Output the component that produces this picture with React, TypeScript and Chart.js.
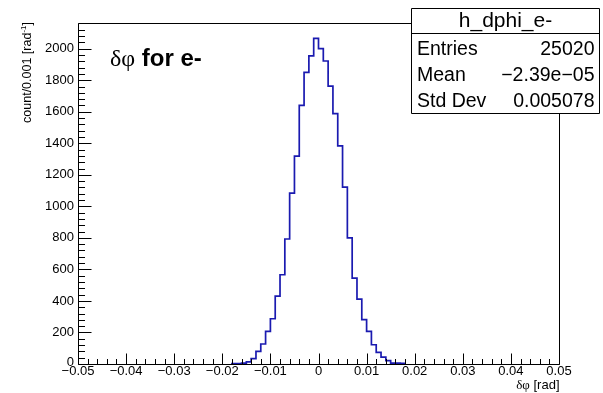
import React, { useEffect, useRef } from "react";
import { Chart, registerables } from "chart.js";

Chart.register(...registerables);

// ---- data ----
const binWidth = 0.001;
const firstBinLow = -0.018;
const counts = [
  3, 3, 5, 13, 34, 80, 127, 207, 287, 431, 566, 793, 1084, 1318, 1640, 1850, 1954, 2066,
  2000, 1922, 1762, 1588, 1384, 1122, 800, 545, 412, 281, 207, 122, 74, 44, 21, 6, 5, 4,
];
const xMin = -0.05;
const xMax = 0.05;
const yMin = 0;
const yMax = 2163;
const xTickValues = [-0.05, -0.04, -0.03, -0.02, -0.01, 0, 0.01, 0.02, 0.03, 0.04, 0.05];
const xTickLabels = ["\u22120.05", "\u22120.04", "\u22120.03", "\u22120.02", "\u22120.01", "0", "0.01", "0.02", "0.03", "0.04", "0.05"];
const yTickValues = [0, 200, 400, 600, 800, 1000, 1200, 1400, 1600, 1800, 2000];
const yTickLabels = ["0", "200", "400", "600", "800", "1000", "1200", "1400", "1600", "1800", "2000"];
const statTitle = "h_dphi_e-";
const statNames = ["Entries", "Mean", "Std Dev"];
const statValues = ["25020", "\u22122.39e\u221205", "0.005078"];
const plotTitleGreek = "\u03b4\u03c6";
const plotTitleRest = " for e-";
const xTitleGreek = "\u03b4\u03c6";
const xTitleRest = " [rad]";
const yTitleMain = "count/0.001 [rad";
const yTitleSup = "-1";
const yTitleEnd = "]";

const SANS = '"Liberation Sans", Arial, Helvetica, sans-serif';
const SERIF = '"Liberation Serif", "Times New Roman", serif';

function buildPoints() {
  const pts: { x: number; y: number }[] = [];
  pts.push({ x: firstBinLow, y: 0 });
  counts.forEach((c, i) => pts.push({ x: firstBinLow + i * binWidth, y: c }));
  pts.push({ x: firstBinLow + counts.length * binWidth, y: 0 });
  return pts;
}

const rootStyle = {
  id: "rootStyle",
  beforeDraw(chart: any) {
    const ctx = chart.ctx;
    ctx.save();
    ctx.fillStyle = "#fff";
    ctx.fillRect(0, 0, chart.width, chart.height);
    ctx.restore();
  },
  afterDraw(chart: any) {
    const ctx: CanvasRenderingContext2D = chart.ctx;
    const a = chart.chartArea;
    const xs = chart.scales.x;
    const ys = chart.scales.y;
    const L = Math.round(a.left) + 0.5;
    const R = Math.round(a.right) + 0.5;
    const T = Math.round(a.top) + 0.5;
    const B = Math.round(a.bottom) + 0.5;
    ctx.save();
    ctx.strokeStyle = "#000";
    ctx.lineWidth = 1;
    ctx.beginPath();
    ctx.rect(L, T, R - L, B - T);
    ctx.stroke();

    // x ticks (inward)
    ctx.beginPath();
    const nx = 50;
    for (let i = 0; i <= nx; i++) {
      const v = xMin + (i * (xMax - xMin)) / nx;
      const px = Math.round(xs.getPixelForValue(v)) + 0.5;
      const len = i % 5 === 0 ? 11 : 5.5;
      ctx.moveTo(px, B);
      ctx.lineTo(px, B - len);
    }
    // y ticks (inward)
    for (let v = 0; v <= yMax; v += 40) {
      const py = Math.round(ys.getPixelForValue(v)) + 0.5;
      const len = v % 200 === 0 ? 13 : 6.5;
      ctx.moveTo(L, py);
      ctx.lineTo(L + len, py);
    }
    ctx.stroke();

    // tick labels
    ctx.fillStyle = "#000";
    ctx.font = `13px ${SANS}`;
    ctx.textAlign = "center";
    ctx.textBaseline = "middle";
    xTickValues.forEach((v, i) => {
      ctx.fillText(xTickLabels[i], xs.getPixelForValue(v), 371);
    });
    ctx.textAlign = "right";
    yTickValues.forEach((v, i) => {
      ctx.fillText(yTickLabels[i], 74, ys.getPixelForValue(v) - (v === 0 ? 1.5 : 0));
    });

    // x title
    ctx.textBaseline = "alphabetic";
    ctx.textAlign = "left";
    ctx.font = `13px ${SERIF}`;
    const gw = ctx.measureText(xTitleGreek).width;
    ctx.font = `13px ${SANS}`;
    const rw = ctx.measureText(xTitleRest).width;
    const xStart = R - gw - rw;
    ctx.font = `13px ${SERIF}`;
    ctx.fillText(xTitleGreek, xStart, 389);
    ctx.font = `13px ${SANS}`;
    ctx.fillText(xTitleRest, xStart + gw, 389);

    // y title (rotated)
    ctx.save();
    ctx.translate(31, 22);
    ctx.rotate(-Math.PI / 2);
    ctx.font = `12.5px ${SANS}`;
    const w1 = ctx.measureText(yTitleMain).width;
    const w3 = ctx.measureText(yTitleEnd).width;
    ctx.font = `8px ${SANS}`;
    const w2 = ctx.measureText(yTitleSup).width;
    let cx = -(w1 + w2 + w3);
    ctx.font = `12.5px ${SANS}`;
    ctx.fillText(yTitleMain, cx, 0);
    cx += w1;
    ctx.font = `8px ${SANS}`;
    ctx.fillText(yTitleSup, cx, -5);
    cx += w2;
    ctx.font = `12.5px ${SANS}`;
    ctx.fillText(yTitleEnd, cx, 0);
    ctx.restore();

    // plot title
    ctx.font = `24px ${SERIF}`;
    const tw = ctx.measureText(plotTitleGreek).width;
    ctx.fillText(plotTitleGreek, 110, 66);
    ctx.font = `bold 24px ${SANS}`;
    ctx.fillText(plotTitleRest, 110 + tw, 66);

    // stat box
    const bx = 411.5, by = 8.5, bw = 188, bh = 105;
    ctx.fillStyle = "#fff";
    ctx.fillRect(bx, by, bw, bh);
    ctx.beginPath();
    ctx.rect(bx, by, bw, bh);
    ctx.moveTo(bx, 33.5);
    ctx.lineTo(bx + bw, 33.5);
    ctx.stroke();
    ctx.fillStyle = "#000";
    ctx.font = `21px ${SANS}`;
    ctx.textAlign = "center";
    ctx.fillText(statTitle, bx + bw / 2, 27);
    ctx.font = `19.5px ${SANS}`;
    ctx.textBaseline = "middle";
    const rowsY = [49.5, 76, 102];
    statNames.forEach((n, i) => {
      ctx.textAlign = "left";
      ctx.fillText(n, 417, rowsY[i]);
      ctx.textAlign = "right";
      ctx.fillText(statValues[i], 594.5, rowsY[i]);
    });
    ctx.restore();
  },
};

export default function App() {
  const ref = useRef<HTMLCanvasElement | null>(null);
  useEffect(() => {
    if (!ref.current) return;
    const chart = new Chart(ref.current, {
      type: "line",
      data: {
        datasets: [
          {
            data: buildPoints(),
            borderColor: "#1a1ab0",
            borderWidth: 1.7,
            stepped: "before",
            pointRadius: 0,
            fill: false,
            tension: 0,
          },
        ],
      },
      options: {
        animation: false,
        responsive: false,
        maintainAspectRatio: false,
        events: [],
        layout: { padding: { left: 78, right: 44, top: 23, bottom: 29 } },
        plugins: {
          legend: { display: false },
          tooltip: { enabled: false },
          title: { display: false },
        },
        scales: {
          x: { type: "linear", min: xMin, max: xMax, display: false },
          y: { type: "linear", min: yMin, max: yMax, display: false },
        },
      },
      plugins: [rootStyle],
    } as any);
    return () => chart.destroy();
  }, []);
  return (
    <div style={{ position: "fixed", left: 0, top: 0, width: 603, height: 393, background: "#fff" }}>
      <canvas ref={ref} width={603} height={393} style={{ display: "block" }} />
    </div>
  );
}
